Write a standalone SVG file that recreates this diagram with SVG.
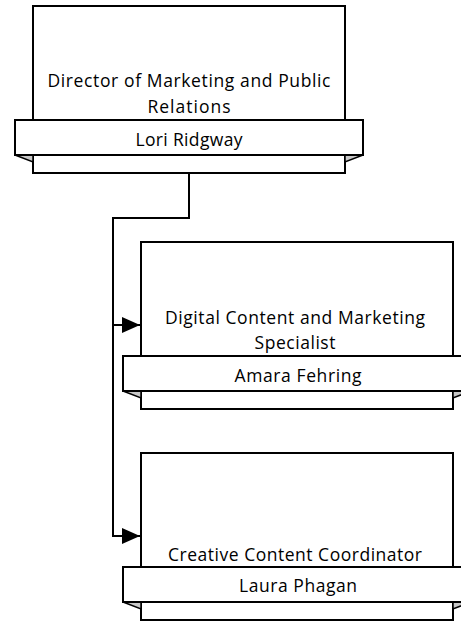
<svg xmlns="http://www.w3.org/2000/svg" width="461" height="621" viewBox="0 0 461 621">
<style>
.box{fill:#fff;stroke:#000;stroke-width:2}
.bar{fill:#fff;stroke:#000;stroke-width:2}
.fold{fill:#c8c8c8;stroke:#000;stroke-width:1.5;stroke-linejoin:miter}
.t{font-family:"Open Sans","Liberation Sans",Arial,sans-serif;font-size:17.5px;fill:#000;text-anchor:middle}
.conn{fill:none;stroke:#000;stroke-width:2}
</style>
<defs>
<marker id="arr" markerUnits="userSpaceOnUse" markerWidth="20" markerHeight="18" refX="18" refY="8" orient="auto">
<path d="M0,0 L18,8 L0,16 Z" fill="#000"/>
</marker>
</defs>
<rect width="461" height="621" fill="#fff"/>
<g id="connectors">
<path class="conn" d="M189,173 V218 H113 V536"/>
<path class="conn" d="M112,325 H140" marker-end="url(#arr)"/>
<path class="conn" d="M112,536 H140" marker-end="url(#arr)"/>
</g>
<g id="node-director">
<rect class="box" x="33" y="6" width="312" height="167"/>
<path class="fold" d="M15,155 L33,155 L33,162 Z"/>
<path class="fold" d="M363,155 L345,155 L345,162 Z"/>
<rect class="bar" x="15" y="120" width="348" height="35"/>
<text class="t" x="189" y="87" textLength="283" lengthAdjust="spacing">Director of Marketing and Public</text>
<text class="t" x="189" y="113" textLength="83" lengthAdjust="spacing">Relations</text>
<text class="t" x="189" y="146" textLength="107" lengthAdjust="spacing">Lori Ridgway</text>
</g>
<g id="node-digital">
<rect class="box" x="141" y="242" width="312" height="167"/>
<path class="fold" d="M123,391 L141,391 L141,398 Z"/>
<path class="fold" d="M471,391 L453,391 L453,398 Z"/>
<rect class="bar" x="123" y="356" width="348" height="35"/>
<text class="t" x="295" y="324" textLength="260" lengthAdjust="spacing">Digital Content and Marketing</text>
<text class="t" x="295" y="349" textLength="81" lengthAdjust="spacing">Specialist</text>
<text class="t" x="298" y="382" textLength="127" lengthAdjust="spacing">Amara Fehring</text>
</g>
<g id="node-creative">
<rect class="box" x="141" y="453" width="312" height="167"/>
<path class="fold" d="M123,602 L141,602 L141,609 Z"/>
<path class="fold" d="M471,602 L453,602 L453,609 Z"/>
<rect class="bar" x="123" y="567" width="348" height="35"/>
<text class="t" x="295" y="561" textLength="254" lengthAdjust="spacing">Creative Content Coordinator</text>
<text class="t" x="298" y="592" textLength="118" lengthAdjust="spacing">Laura Phagan</text>
</g>
</svg>
